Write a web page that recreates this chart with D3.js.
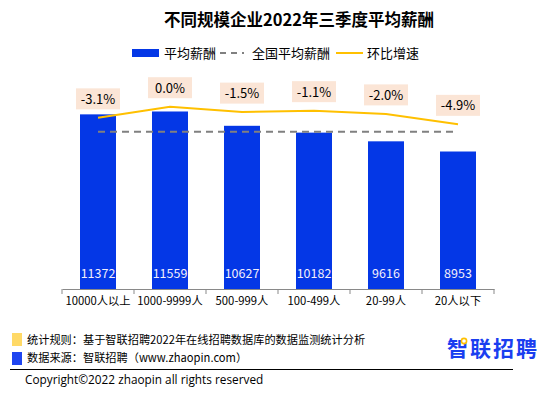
<!DOCTYPE html>
<html>
<head>
<meta charset="utf-8">
<script src="https://cdn.jsdelivr.net/npm/d3@7"></script>
<style>
  body { margin: 0; background: #fff; }
  svg { display: block; font-family: "Noto Sans CJK SC", "Noto Sans", sans-serif; }
</style>
</head>
<body>
<svg id="canvas" width="554" height="398"></svg>
<script>
// chart values
const categories = ['10000人以上', '1000-9999人', '500-999人', '100-499人', '20-99人', '20人以下'];
const salaries = [11372, 11559, 10627, 10182, 9616, 8953];
const growth = [-3.1, 0.0, -1.5, -1.1, -2.0, -4.9];
const nationalAvg = 10241;

let canvas = d3.select('#canvas');

// scales
let x = d3.scaleBand()
    .domain(categories)
    .range([62, 494])
    .padding(0.5)
    .paddingOuter(0.25);
let y = d3.scaleLinear().domain([0, 14000]).range([289, 74]);
// growth rate sits on its own axis (hidden)
let y2 = d3.scaleLinear().domain([-5, 0]).range([124.7, 106.7]);

let cx = (c) => x(c) + x.bandwidth() / 2;

// title
canvas.append('text')
    .attr('x', 299)
    .attr('y', 26)
    .attr('text-anchor', 'middle')
    .style('font-size', '16.5px')
    .style('font-weight', 'bold')
    .attr('fill', '#000')
    .text('不同规模企业2022年三季度平均薪酬');

// legend
let lg = canvas.append('g').style('font-size', '13px').attr('fill', '#000');
lg.append('rect').attr('x', 132).attr('y', 49).attr('width', 27).attr('height', 8).attr('fill', '#0437e6');
lg.append('text').attr('x', 164).attr('y', 58).text('平均薪酬');
lg.append('line').attr('x1', 220).attr('x2', 244).attr('y1', 53).attr('y2', 53)
    .attr('stroke', '#808080').attr('stroke-width', 2).attr('stroke-dasharray', '6,5');
lg.append('text').attr('x', 252).attr('y', 58).text('全国平均薪酬');
lg.append('line').attr('x1', 336).attr('x2', 363).attr('y1', 53).attr('y2', 53)
    .attr('stroke', '#ffc000').attr('stroke-width', 2);
lg.append('text').attr('x', 367).attr('y', 58).text('环比增速');

// bars
canvas.selectAll('rect.bar')
    .data(salaries)
    .enter()
    .append('rect')
    .attr('class', 'bar')
    .attr('x', (d, i) => x(categories[i]))
    .attr('y', d => y(d))
    .attr('width', x.bandwidth())
    .attr('height', d => y(0) - y(d))
    .attr('fill', '#0437e6');

// bar value labels
canvas.selectAll('text.val')
    .data(salaries)
    .enter()
    .append('text')
    .attr('class', 'val')
    .attr('x', (d, i) => cx(categories[i]))
    .attr('y', 278)
    .attr('text-anchor', 'middle')
    .style('font-size', '12.5px')
    .attr('fill', '#f3eefa')
    .text(d => d);

// x axis
let xAxis = d3.axisBottom(x).tickSize(0).tickPadding(8);
let ax = canvas.append('g').attr('transform', 'translate(0,289)').call(xAxis);
ax.select('.domain').attr('stroke', '#898989').attr('stroke-width', 1.2);
ax.selectAll('text').style('font-size', '11.3px').attr('fill', '#000')
    .style('font-family', '"Noto Sans CJK SC", sans-serif');
// band boundary ticks
let bounds = categories.map((c, i) => 62 + i * x.step());
bounds.push(494);
ax.selectAll('line.bt')
    .data(bounds)
    .enter()
    .append('line')
    .attr('x1', d => d).attr('x2', d => d)
    .attr('y1', 0).attr('y2', 5)
    .attr('stroke', '#898989');

// national average dashed line
canvas.append('line')
    .attr('x1', cx(categories[0]))
    .attr('x2', cx(categories[categories.length - 1]))
    .attr('y1', y(nationalAvg))
    .attr('y2', y(nationalAvg))
    .attr('stroke', '#808080')
    .attr('stroke-width', 2.2)
    .attr('stroke-dasharray', '7,5');

// growth line
let line = d3.line()
    .x((d, i) => cx(categories[i]))
    .y(d => y2(d));
canvas.append('path')
    .datum(growth)
    .attr('d', line)
    .attr('fill', 'none')
    .attr('stroke', '#ffc000')
    .attr('stroke-width', 2);

// growth labels
let gl = canvas.selectAll('g.glab')
    .data(growth)
    .enter()
    .append('g')
    .attr('class', 'glab')
    .attr('transform', (d, i) => `translate(${cx(categories[i])},${y2(d) - 19})`);
gl.append('rect')
    .attr('x', -22).attr('y', -10.5)
    .attr('width', 44).attr('height', 21)
    .attr('fill', '#fbe5d6');
gl.append('text')
    .attr('text-anchor', 'middle')
    .attr('y', 5)
    .style('font-size', '13px')
    .attr('fill', '#000')
    .text(d => d.toFixed(1) + '%');

// footer
let ft = canvas.append('g').style('font-size', '11.2px').attr('fill', '#000');
ft.append('rect').attr('x', 12).attr('y', 333).attr('width', 10).attr('height', 13).attr('fill', '#ffd966');
ft.append('text').attr('x', 27).attr('y', 344).text('统计规则：基于智联招聘2022年在线招聘数据库的数据监测统计分析');
ft.append('rect').attr('x', 12).attr('y', 352).attr('width', 10).attr('height', 13).attr('fill', '#1f45f0');
ft.append('text').attr('x', 27).attr('y', 362).text('数据来源：智联招聘（www.zhaopin.com）');
canvas.append('line').attr('x1', 10).attr('x2', 513).attr('y1', 369.5).attr('y2', 369.5)
    .attr('stroke', '#000').attr('stroke-width', 1);
canvas.append('text').attr('x', 25).attr('y', 384)
    .style('font-size', '11.8px').style('font-family', '"Open Sans", "Noto Sans", sans-serif')
    .attr('fill', '#000')
    .text('Copyright©2022 zhaopin all rights reserved');

// logo
canvas.append('text').attr('x', 447).attr('y', 356)
    .style('font-size', '21px').style('font-weight', 'bold')
    .attr('fill', '#1a3ef0')
    .attr('textLength', 90)
    .text('智联招聘');
canvas.append('circle').attr('cx', 464).attr('cy', 341).attr('r', 2.6)
    .attr('fill', '#fff').attr('stroke', '#ffc000').attr('stroke-width', 1.6);
</script>
</body>
</html>
